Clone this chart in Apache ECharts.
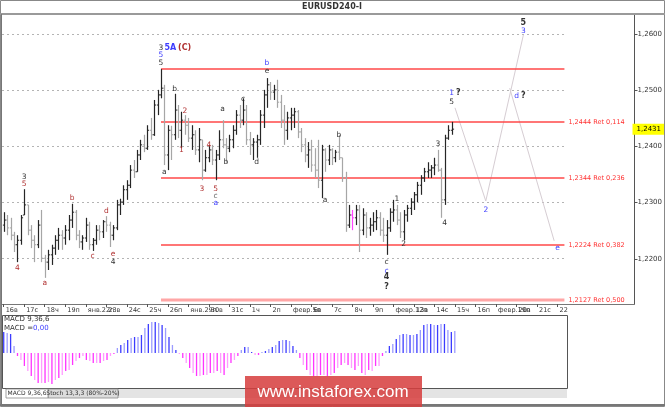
<!DOCTYPE html>
<html><head><meta charset="utf-8">
<script src="https://cdn.jsdelivr.net/npm/echarts@6/dist/echarts.min.js"></script>
<style>html,body{margin:0;padding:0;background:#fff}#c{width:665px;height:407px}</style>
</head><body><div id="c"></div>
<script>
const dayLabels = ["16в","17с","18ч","19п","янв.22п","23в","24с","25ч","26п","янв.29п","30в","31с","1ч","2п","февр.5п","6в","7с","8ч","9п","февр.12п","13в","14с","15ч","16п","февр.19п","20в","21с","22"];
const barsPerDay = 6;
const totalSlots = 185;

const openP = [1.2260,1.2269,1.2255,1.2242,1.2225,1.2233,1.2278,1.2296,1.2251,1.2233,1.2225,1.2260,1.2201,1.2194,1.2207,1.2219,1.2233,1.2242,1.2237,1.2251,1.2269,1.2283,1.2242,1.2230,1.2237,1.2260,1.2225,1.2233,1.2251,1.2248,1.2266,1.2260,1.2242,1.2255,1.2296,1.2301,1.2323,1.2331,1.2358,1.2355,1.2385,1.2403,1.2397,1.2429,1.2421,1.2474,1.2492,1.2504,1.2385,1.2429,1.2421,1.2465,1.2429,1.2447,1.2438,1.2415,1.2421,1.2394,1.2412,1.2358,1.2380,1.2394,1.2376,1.2385,1.2412,1.2403,1.2397,1.2412,1.2429,1.2456,1.2447,1.2465,1.2412,1.2403,1.2408,1.2412,1.2456,1.2492,1.2510,1.2497,1.2501,1.2479,1.2447,1.2429,1.2451,1.2456,1.2462,1.2426,1.2403,1.2385,1.2394,1.2367,1.2358,1.2340,1.2394,1.2376,1.2394,1.2380,1.2390,1.2380,1.2344,1.2260,1.2278,1.2273,1.2287,1.2251,1.2278,1.2255,1.2260,1.2266,1.2273,1.2251,1.2242,1.2255,1.2283,1.2287,1.2269,1.2248,1.2278,1.2290,1.2301,1.2314,1.2331,1.2344,1.2355,1.2358,1.2362,1.2367,1.2358,1.2305,1.2415,1.2429];
const highP = [1.2283,1.2278,1.2273,1.2248,1.2242,1.2278,1.2324,1.2296,1.2260,1.2242,1.2269,1.2287,1.2207,1.2216,1.2225,1.2242,1.2255,1.2251,1.2260,1.2278,1.2298,1.2287,1.2251,1.2242,1.2273,1.2266,1.2237,1.2260,1.2260,1.2269,1.2276,1.2266,1.2260,1.2305,1.2307,1.2331,1.2340,1.2367,1.2376,1.2394,1.2412,1.2421,1.2438,1.2451,1.2483,1.2501,1.2538,1.2510,1.2438,1.2437,1.2494,1.2474,1.2462,1.2456,1.2451,1.2438,1.2429,1.2433,1.2412,1.2394,1.2403,1.2403,1.2394,1.2429,1.2447,1.2415,1.2421,1.2438,1.2465,1.2474,1.2486,1.2474,1.2426,1.2415,1.2421,1.2465,1.2501,1.2522,1.2515,1.2510,1.2519,1.2492,1.2474,1.2462,1.2469,1.2469,1.2465,1.2433,1.2415,1.2408,1.2412,1.2397,1.2412,1.2403,1.2397,1.2403,1.2397,1.2394,1.2421,1.2380,1.2355,1.2296,1.2287,1.2296,1.2296,1.2290,1.2283,1.2273,1.2283,1.2287,1.2283,1.2273,1.2269,1.2290,1.2305,1.2296,1.2283,1.2287,1.2296,1.2308,1.2319,1.2337,1.2349,1.2362,1.2372,1.2367,1.2380,1.2394,1.2362,1.2421,1.2438,1.2444];
const lowP = [1.2248,1.2242,1.2233,1.2212,1.2194,1.2225,1.2278,1.2242,1.2219,1.2194,1.2219,1.2194,1.2166,1.2180,1.2189,1.2207,1.2216,1.2216,1.2225,1.2233,1.2255,1.2233,1.2219,1.2216,1.2230,1.2216,1.2214,1.2225,1.2233,1.2237,1.2248,1.2221,1.2233,1.2251,1.2278,1.2296,1.2305,1.2326,1.2344,1.2355,1.2376,1.2390,1.2394,1.2412,1.2419,1.2456,1.2486,1.2367,1.2358,1.2376,1.2412,1.2415,1.2397,1.2421,1.2408,1.2394,1.2385,1.2372,1.2340,1.2355,1.2372,1.2367,1.2340,1.2376,1.2397,1.2371,1.2390,1.2397,1.2421,1.2433,1.2438,1.2403,1.2385,1.2376,1.2380,1.2403,1.2433,1.2469,1.2483,1.2483,1.2469,1.2433,1.2403,1.2412,1.2429,1.2433,1.2415,1.2390,1.2372,1.2362,1.2355,1.2344,1.2326,1.2308,1.2355,1.2367,1.2367,1.2372,1.2376,1.2337,1.2248,1.2255,1.2251,1.2260,1.2212,1.2242,1.2237,1.2241,1.2248,1.2251,1.2241,1.2230,1.2207,1.2248,1.2266,1.2260,1.2237,1.2233,1.2266,1.2278,1.2287,1.2301,1.2314,1.2337,1.2344,1.2344,1.2349,1.2355,1.2273,1.2296,1.2412,1.2421];
const closeP = [1.2269,1.2255,1.2242,1.2225,1.2233,1.2273,1.2296,1.2251,1.2233,1.2225,1.2260,1.2201,1.2194,1.2207,1.2219,1.2233,1.2242,1.2237,1.2251,1.2269,1.2283,1.2242,1.2230,1.2237,1.2260,1.2225,1.2233,1.2251,1.2248,1.2266,1.2260,1.2242,1.2255,1.2296,1.2301,1.2323,1.2331,1.2358,1.2355,1.2385,1.2403,1.2397,1.2429,1.2421,1.2474,1.2492,1.2504,1.2385,1.2429,1.2421,1.2465,1.2429,1.2447,1.2438,1.2415,1.2421,1.2394,1.2412,1.2358,1.2380,1.2394,1.2376,1.2385,1.2412,1.2403,1.2397,1.2412,1.2429,1.2456,1.2447,1.2465,1.2412,1.2403,1.2408,1.2412,1.2456,1.2492,1.2510,1.2497,1.2501,1.2479,1.2447,1.2429,1.2451,1.2456,1.2462,1.2426,1.2403,1.2385,1.2394,1.2367,1.2358,1.2340,1.2394,1.2376,1.2394,1.2380,1.2390,1.2380,1.2344,1.2260,1.2278,1.2273,1.2287,1.2251,1.2278,1.2255,1.2260,1.2266,1.2273,1.2251,1.2242,1.2255,1.2283,1.2287,1.2269,1.2248,1.2278,1.2290,1.2301,1.2314,1.2331,1.2344,1.2355,1.2358,1.2362,1.2367,1.2358,1.2305,1.2415,1.2429,1.2431];

const macdHist = [21,20,19,7,-3,-7,-13,-18,-23,-27,-30,-30,-30,-29,-31,-27,-25,-22,-18,-17,-12,-8,-5,-3,-7,-8,-10,-10,-10,-8,-7,-3,-1,5,8,10,13,15,16,16,18,25,29,31,31,30,28,25,16,8,3,-1,-5,-10,-15,-20,-23,-23,-22,-22,-20,-20,-18,-20,-22,-15,-10,-7,-3,3,6,6,1,-2,-2,1,2,4,6,8,12,13,13,12,7,3,-5,-12,-17,-22,-23,-23,-22,-22,-23,-22,-20,-15,-12,-10,-12,-15,-17,-13,-20,-22,-17,-18,-13,-13,-3,2,7,9,14,18,19,19,18,18,19,23,28,29,29,28,28,29,29,23,21,22];

const highlightBar = 102;
const fibLevels = [1.2538, 1.2444, 1.2344, 1.2224, 1.2127];
const fibTexts = ["", "1,2444 Ret 0,114", "1,2344 Ret 0,236", "1,2224 Ret 0,382", "1,2127 Ret 0,500"];
const fibFrom = 46, fibTo = 164;
const gridLevels = [1.22, 1.23, 1.24, 1.25, 1.26];
const forecastA = [[132, 1.2469], [141, 1.2303], [152, 1.2599]];
const forecastB = [[148, 1.2504], [161, 1.2232]];
const lastPrice = 1.2431;

// [slot, price, text, color, bold, align]
const waveLabels = [
  [46,1.2576,"3","k"],[46,1.2563,"5","b"],[46,1.2549,"5","k"],
  [47,1.2576,"5A","b",1,"left"],[51,1.2576,"(C)","r",1,"left"],
  [50,1.2502,"b","k"],[53,1.2463,"2","r"],[52,1.2394,"1","r"],[60,1.2403,"4","r"],
  [77,1.2549,"b","b"],[77,1.2535,"e","k"],[64,1.2467,"a","k"],[70,1.2485,"c","k"],[98,1.2420,"b","k"],
  [152,1.2621,"5","k",1],[152,1.2606,"3","b"],
  [131,1.2495,"1","b"],[133,1.2495,"?","k",1],[131,1.2479,"5","k"],
  [150,1.2490,"d","b"],[152,1.2490,"?","k",1],[127,1.2405,"3","k"],
  [6,1.2345,"3","k"],[6,1.2333,"5","r"],[4,1.2183,"4","r"],[12,1.2157,"a","r"],
  [20,1.2309,"b","r"],[26,1.2205,"c","r"],[30,1.2285,"d","r"],[32,1.2208,"e","r"],[32,1.2194,"4","k"],
  [47,1.2355,"a","k"],[58,1.2324,"3","r"],[62,1.2324,"5","r"],[62,1.2311,"c","g"],[62,1.2299,"a","b"],
  [65,1.2372,"b","k"],[74,1.2372,"d","k"],[94,1.2304,"a","k"],
  [115,1.2307,"1","k"],[117,1.2226,"2","k"],
  [112,1.2195,"c","k"],[112,1.2179,"c","b"],[112,1.2167,"4","k",1],[112,1.2150,"?","k",1],
  [141,1.2286,"2","b"],[162,1.2220,"e","b"],[129,1.2263,"4","k"]
];
const labelColors = {k:"#333333", b:"#3c3cff", r:"#b03030", g:"#666666"};

const cats = [];
for (let i = 0; i < totalSlots; i++) {
  cats.push(i % barsPerDay === 0 && i / barsPerDay < dayLabels.length ? dayLabels[i / barsPerDay] : "");
}
const tickShow = (idx) => idx % barsPerDay === 0 && idx / barsPerDay < dayLabels.length;

const ohlc = openP.map((o, i) => [i, o, closeP[i], lowP[i], highP[i]]);

const chart = echarts.init(document.getElementById('c'), null, {renderer: 'canvas'});
const FONT = '"DejaVu Sans", Verdana, sans-serif';
const crisp = v => Math.round(v - 0.5) + 0.5;

const option = {
  animation: false,
  backgroundColor: '#ffffff',
  grid: [
    {left: 2, right: 26, top: 14, height: 290},
    {left: 2, right: 26, top: 315, height: 73}
  ],
  xAxis: [
    {type: 'category', gridIndex: 0, data: cats, boundaryGap: true,
     axisLine: {show: true, lineStyle: {color: '#777', width: 1}},
     axisTick: {show: true, alignWithLabel: true, interval: tickShow, length: 3, lineStyle: {color: '#555'}},
     axisLabel: {interval: 0, align: 'left', padding: [0, 0, 0, 2], margin: 3, fontSize: 6.5, color: '#333', fontFamily: FONT},
     splitLine: {show: false}},
    {type: 'category', gridIndex: 1, data: cats, boundaryGap: true, show: false}
  ],
  yAxis: [
    {type: 'value', gridIndex: 0, position: 'right', min: 1.21194, max: 1.26362, splitNumber: 5, scale: true,
     axisLine: {show: true, lineStyle: {color: '#555'}},
     axisTick: {show: true, length: 3, lineStyle: {color: '#555'}},
     axisLabel: {showMinLabel: false, showMaxLabel: false, fontSize: 7, color: '#333', margin: 3, fontFamily: FONT,
       formatter: v => v.toFixed(4).replace('.', ',')},
     splitLine: {show: false}},
    {type: 'value', gridIndex: 1, min: -35, max: 38, show: false}
  ],
  series: [
    {
      type: 'custom', xAxisIndex: 0, yAxisIndex: 0, silent: true, z: 1,
      data: gridLevels.map(v => [0, v]),
      renderItem: (params, api) => {
        const a = api.coord([0, api.value(1)]);
        const b = api.coord([fibTo, api.value(1)]);
        const y = crisp(a[1]);
        return {type: 'line', shape: {x1: params.coordSys.x, y1: y, x2: b[0], y2: y},
          style: {stroke: '#b4b4b4', lineWidth: 1, lineDash: [2, 3]}};
      }
    },
    {
      type: 'custom', xAxisIndex: 0, yAxisIndex: 0, silent: true, clip: false, z: 3,
      data: fibLevels.map(v => [fibFrom, v]),
      renderItem: (params, api) => {
        const k = params.dataIndex;
        const last = k === fibLevels.length - 1;
        const a = api.coord([fibFrom, api.value(1)]);
        const b = api.coord([fibTo, api.value(1)]);
        const y = Math.round(a[1]);
        const children = [{type: 'line', shape: {x1: a[0], y1: y, x2: b[0], y2: y},
          style: {stroke: last ? '#ffa6a6' : '#ff4848', lineWidth: last ? 3 : 1.6}}];
        if (fibTexts[k]) {
          children.push({type: 'text', x: b[0] + 4, y: y, style: {text: fibTexts[k], fill: '#ff3030',
            font: '6.5px ' + FONT, textAlign: 'left', textVerticalAlign: 'middle'}});
        }
        return {type: 'group', children};
      }
    },
    {
      type: 'line', xAxisIndex: 0, yAxisIndex: 0, data: forecastA, symbol: 'none', silent: true, z: 2,
      color: '#d6cdd3', lineStyle: {color: '#d6cdd3', width: 1}
    },
    {
      type: 'line', xAxisIndex: 0, yAxisIndex: 0, data: forecastB, symbol: 'none', silent: true, z: 2,
      color: '#d6cdd3', lineStyle: {color: '#d6cdd3', width: 1}
    },
    {
      type: 'custom', xAxisIndex: 0, yAxisIndex: 0, data: ohlc, silent: true, z: 4,
      encode: {x: 0, y: [1, 2, 3, 4]},
      renderItem: (params, api) => {
        const i = api.value(0);
        const o = api.coord([i, api.value(1)]);
        const c = api.coord([i, api.value(2)]);
        const l = api.coord([i, api.value(3)]);
        const h = api.coord([i, api.value(4)]);
        const x = Math.round(o[0]) + 0.5;
        const up = api.value(2) >= api.value(1);
        const col = i === highlightBar ? '#ff44ff' : (up ? '#262626' : '#a6a6a6');
        return {type: 'group', children: [
          {type: 'line', shape: {x1: x, y1: h[1], x2: x, y2: l[1]}, style: {stroke: col, lineWidth: 1.2}},
          {type: 'line', shape: {x1: x - 1.6, y1: o[1], x2: x, y2: o[1]}, style: {stroke: col, lineWidth: 1}},
          {type: 'line', shape: {x1: x, y1: c[1], x2: x + 1.6, y2: c[1]}, style: {stroke: col, lineWidth: 1}}
        ]};
      }
    },
    {
      type: 'custom', xAxisIndex: 0, yAxisIndex: 0, silent: true, clip: false, z: 10,
      data: waveLabels.map(w => [w[0], w[1]]),
      renderItem: (params, api) => {
        const w = waveLabels[params.dataIndex];
        const p = api.coord([api.value(0), api.value(1)]);
        return {type: 'text', x: p[0], y: p[1], style: {
          text: w[2], fill: labelColors[w[3]],
          font: (w[4] ? 'bold 8px ' : '7.5px ') + FONT,
          textAlign: w[5] || 'center', textVerticalAlign: 'middle'}};
      }
    },
    {
      type: 'custom', xAxisIndex: 0, yAxisIndex: 0, silent: true, clip: false, z: 12,
      data: [[0, lastPrice]],
      renderItem: (params, api) => {
        const p = api.coord([0, api.value(1)]);
        const cs = params.coordSys;
        const x0 = cs.x + cs.width - 2;
        return {type: 'group', children: [
          {type: 'rect', shape: {x: x0, y: p[1] - 5.5, width: 665 - x0, height: 11}, style: {fill: '#ffff00'}},
          {type: 'text', x: x0 + 4, y: p[1], style: {text: lastPrice.toFixed(4).replace('.', ','), fill: '#000', font: '7px ' + FONT, textAlign: 'left', textVerticalAlign: 'middle'}}
        ]};
      }
    },
    {
      type: 'bar', xAxisIndex: 1, yAxisIndex: 1, data: macdHist, barWidth: 1.3, silent: true,
      itemStyle: {color: p => p.value >= 0 ? (p.dataIndex % 2 ? '#9b9bff' : '#3c3cff') : (p.dataIndex % 2 ? '#ff9cff' : '#ff33ff')}
    }
  ],
  graphic: [
    {type: 'rect', shape: {x: 0.5, y: 0.5, width: 664, height: 406}, style: {fill: 'none', stroke: '#888', lineWidth: 1}, z: 100},
    {type: 'line', shape: {x1: 0, y1: 14, x2: 665, y2: 14}, style: {stroke: '#9a9a9a', lineWidth: 2}, z: 100},
    {type: 'line', shape: {x1: 1.5, y1: 14, x2: 1.5, y2: 405}, style: {stroke: '#777', lineWidth: 1}, z: 100},
    {type: 'text', x: 332, y: 7, style: {text: 'EURUSD240-I', fill: '#333', font: 'bold 8px ' + FONT, textAlign: 'center', textVerticalAlign: 'middle'}, z: 100},
    {type: 'rect', shape: {x: 2.5, y: 315.5, width: 565, height: 73}, style: {fill: 'none', stroke: '#555', lineWidth: 1}, z: 100},
    {type: 'text', x: 4, y: 319, style: {text: 'MACD 9,36,6', fill: '#333', font: '7px ' + FONT, textAlign: 'left', textVerticalAlign: 'middle'}, z: 100},
    {type: 'text', x: 4, y: 328, style: {text: '{k|MACD =}{b|0,00}', rich: {k: {fill: '#333', font: '7px ' + FONT}, b: {fill: '#3c3cff', font: '7px ' + FONT}}, textAlign: 'left', textVerticalAlign: 'middle'}, z: 100},
    {type: 'rect', shape: {x: 118, y: 389, width: 449, height: 9}, style: {fill: '#e4e4e4'}, z: 99},
    {type: 'rect', shape: {x: 48, y: 389, width: 70, height: 9}, style: {fill: '#dcdcdc', stroke: '#888', lineWidth: 0.8}, z: 100},
    {type: 'rect', shape: {x: 6, y: 389, width: 42, height: 9}, style: {fill: '#ffffff', stroke: '#888', lineWidth: 0.8}, z: 100},
    {type: 'text', x: 27, y: 393.5, style: {text: 'MACD 9,36,6', fill: '#333', font: '6px ' + FONT, textAlign: 'center', textVerticalAlign: 'middle'}, z: 101},
    {type: 'text', x: 83, y: 393.5, style: {text: 'Stoch 13,3,3 (80%-20%)', fill: '#333', font: '6px ' + FONT, textAlign: 'center', textVerticalAlign: 'middle'}, z: 101},
    {type: 'line', shape: {x1: 0, y1: 405, x2: 665, y2: 405}, style: {stroke: '#777', lineWidth: 2}, z: 100},
    {type: 'rect', shape: {x: 245, y: 376, width: 177, height: 31}, style: {fill: 'rgba(214,62,62,0.86)'}, z: 110},
    {type: 'text', x: 333, y: 392, style: {text: 'www.instaforex.com', fill: '#ffffff', font: '17px "Liberation Sans", Arial, sans-serif', textAlign: 'center', textVerticalAlign: 'middle'}, z: 111}
  ]
};
chart.setOption(option);
</script>
</body></html>
